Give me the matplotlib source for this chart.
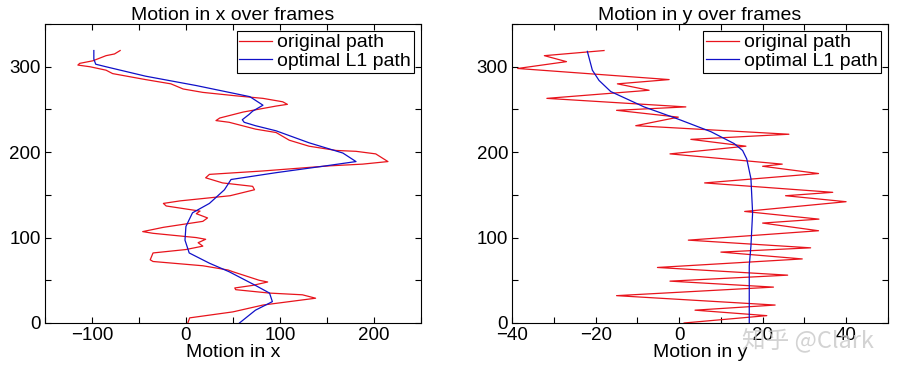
import matplotlib.pyplot as plt
from matplotlib.ticker import MultipleLocator

plt.rcParams['font.family'] = ['Liberation Sans', 'DejaVu Sans']

# left panel: motion in x (value, frame)
x_orig = [2, 4, 50, 82, 138, 124, 89, 53, 52, 71, 87, 78, 50, 45, 18, -35, -38,
          -35, 0, 18, 13, 21, 11, -35, -46, -24, 18, 23, 11, 15, -21, -24, -6,
          47, 73, 71, 39, 21, 25, 82, 153, 188, 215, 202, 181, 160, 131, 110,
          96, 74, 46, 32, 36, 61, 96, 108, 103, 82, 53, 18, -3, -16, -43, -78,
          -85, -102, -115, -113, -99, -85, -76, -70]
x_orig_f = [0, 6, 13, 21, 29, 33, 35, 39, 41, 44, 48, 50, 60, 62, 67, 72, 74,
            82, 86, 90, 94, 98, 100, 105, 107, 112, 119, 123, 128, 131, 137,
            140, 143, 149, 156, 160, 164, 170, 174, 178, 184, 186, 189, 198,
            201, 202, 207, 214, 223, 227, 235, 237, 240, 247, 254, 256, 259,
            263, 266, 270, 274, 280, 285, 292, 296, 300, 302, 304, 307, 313,
            315, 319]
x_opt = [57, 74, 92, 89, 74, 46, 25, 3.5, -1, 0, 7, 25, 41, 48, 96, 149, 181,
         167, 131, 96, 74, 62, 60, 67, 71, 82, 68, 11, -43, -85, -96, -98, -98]
x_opt_f = [0, 15, 25, 35, 44, 60, 70, 82, 97, 113, 129, 140, 156, 168, 176,
           184, 189, 199, 211, 225, 231, 235, 238, 244, 248, 255, 265, 278,
           289, 300, 303, 309, 319]

# right panel: motion in y (value, frame)
y_orig = [1.2, 21, 3.8, 23, -15, 22.6, -2.2, 26, -5.2, 29.5, 10, 31.5, 2.2,
          33.4, 20, 33.5, 15.7, 40, 25.5, 36.8, 6.1, 33.4, 20, 24.7, -2.2, 16,
          2.8, 26.3, -10.4, -0.2, -15, 1.6, -31.7, -7.2, -14.8, -2.4, -38.7,
          -27, -32.3, -18]
y_orig_f = [0, 8.6, 15, 21, 32, 42, 49, 56, 65, 75, 83, 88, 97, 108, 117,
            121.6, 130.6, 142, 149, 153, 164, 175, 183.5, 186, 198, 207, 215,
            221, 231, 241, 249, 253, 263, 272.5, 280, 285, 298, 306, 313, 319]
y_opt = [16.8, 16.8, 17.2, 17.6, 17.2, 16.2, 15.2, 13.2, 7.6, -0.4, -8.4,
         -16.4, -19.2, -20.8, -22]
y_opt_f = [0, 67, 90, 129, 169, 192, 202, 210, 224, 239, 253, 271, 284, 296, 318]

fig = plt.figure(figsize=(9.05, 3.76), dpi=100)
ax1 = fig.add_axes([0.0497, 0.141, 0.4153, 0.795])
ax2 = fig.add_axes([0.566, 0.141, 0.415, 0.795])

panels = [
    (ax1, x_orig, x_orig_f, x_opt, x_opt_f, 'x', (-150, 250), 100, 50),
    (ax2, y_orig, y_orig_f, y_opt, y_opt_f, 'y', (-40, 50), 20, 10),
]
for ax, vo, fo, vp, fp, name, xl, major, minor in panels:
    ax.plot(vo, fo, color='#e8141c', lw=0.9, label='original path')
    ax.plot(vp, fp, color='#1010c8', lw=0.9, label='optimal L1 path')
    ax.set_xlim(*xl)
    ax.set_ylim(0, 350)
    ax.xaxis.set_major_locator(MultipleLocator(major))
    ax.xaxis.set_minor_locator(MultipleLocator(minor))
    ax.yaxis.set_major_locator(MultipleLocator(100))
    ax.yaxis.set_minor_locator(MultipleLocator(50))
    ax.tick_params(which='both', direction='in', top=True, right=True,
                   length=4, width=0.8, labelsize=13.5, pad=3)
    ax.set_title('Motion in ' + name + ' over frames', fontsize=14, pad=3)
    ax.set_xlabel('Motion in ' + name, fontsize=14, labelpad=0)
    leg = ax.legend(loc='upper right', fontsize=14, fancybox=False,
                    framealpha=1, edgecolor='black', borderpad=0.15,
                    labelspacing=0.05, handlelength=1.7, handletextpad=0.25,
                    borderaxespad=0.35)
    leg.get_frame().set_linewidth(0.8)

fig.text(0.893, 0.095, '知乎 @Clark', fontsize=17, color='#c8c8c8', alpha=0.8,
         ha='center', va='center', family=['Noto Sans CJK SC', 'DejaVu Sans'])

fig.savefig('out.png', dpi=100)
